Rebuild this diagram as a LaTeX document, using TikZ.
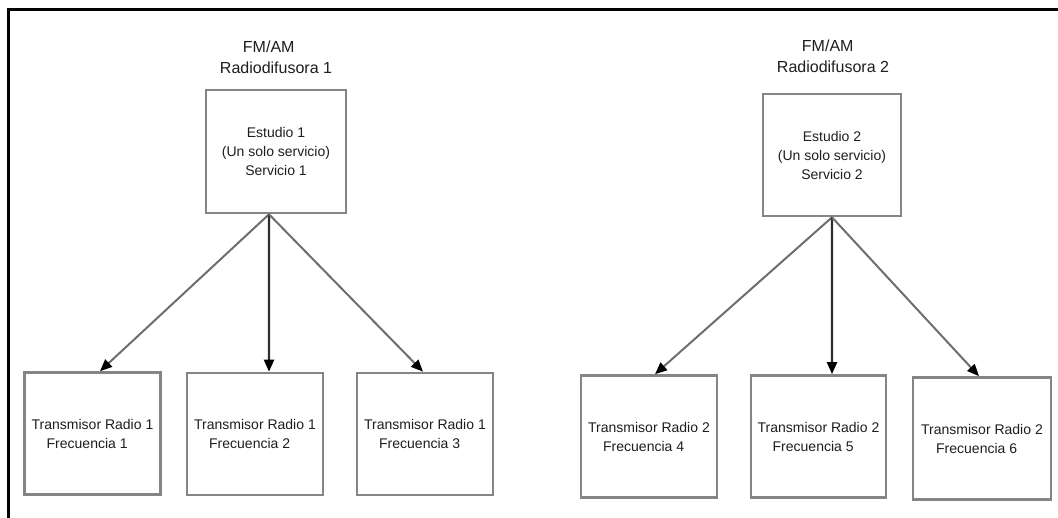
\documentclass[tikz,border=0pt]{standalone}
\usepackage{fontspec}
\setmainfont{Liberation Sans}
\usetikzlibrary{arrows.meta}
\definecolor{boxgray}{HTML}{858585}
\definecolor{linkgray}{HTML}{6E6E6E}
\definecolor{linkdark}{HTML}{2E2E2E}
\definecolor{textdark}{HTML}{1E1E1E}
\begin{document}
\begin{tikzpicture}[x=1bp,y=-1bp,
  box/.style={draw=boxgray, line width=2.6bp, inner sep=0pt, align=center,
    text=textdark, font=\fontsize{14bp}{19bp}\selectfont},
  studiobox/.style={box, minimum width=140bp, minimum height=123bp},
  txbox/.style={box, minimum width=136bp, minimum height=122bp, align=left},
  heading/.style={inner sep=0pt, align=left, text=textdark,
    font=\fontsize{16bp}{21bp}\selectfont},
  tip/.style={-{Triangle[length=12bp,width=10bp,color=black]}},
  link/.style={tip, draw=linkgray, line width=2bp},
  mainlink/.style={tip, draw=linkdark, line width=2.2bp}]

\useasboundingbox (0,0) rectangle (1058,518);
\fill[white] (0,0) rectangle (1058,518);

% outer frame: top and left edges only
\draw[line width=3bp] (1058,10) -| (8,518);

% station 1
\node[heading] (h1) at (276,57) {\hspace*{23bp}FM/AM\\Radiodifusora 1};
\node[studiobox] (e1) at (276,151.5) {Estudio 1\\(Un solo servicio)\\Servicio 1};
\node[txbox] (t1) at (92.5,433.5) {Transmisor Radio 1\\\hspace*{15bp}Frecuencia 1};
\node[txbox] (t2) at (255,434) {Transmisor Radio 1\\\hspace*{15bp}Frecuencia 2};
\node[txbox] (t3) at (425,434) {Transmisor Radio 1\\\hspace*{15bp}Frecuencia 3};

% station 2
\node[heading] (h2) at (833,56) {\hspace*{25bp}FM/AM\\Radiodifusora 2};
\node[studiobox, minimum width=138bp, minimum height=122bp] (e2) at (832,155) {Estudio 2\\(Un solo servicio)\\Servicio 2};
\node[txbox] (t4) at (649,436.5) {Transmisor Radio 2\\\hspace*{15bp}Frecuencia 4};
\node[txbox, minimum width=135bp] (t5) at (818.5,436.5) {Transmisor Radio 2\\\hspace*{15bp}Frecuencia 5};
\node[txbox, minimum width=138bp] (t6) at (982,438.5) {Transmisor Radio 2\\\hspace*{15bp}Frecuencia 6};

% feeds from each studio to its transmitters
\draw[link]     ([xshift=-7bp]e1.south) -- ([xshift=7.5bp]t1.north);
\draw[mainlink] ([xshift=-7bp]e1.south) -- ([xshift=14bp]t2.north);
\draw[link]     ([xshift=-7bp]e1.south) -- ([xshift=-2bp]t3.north);

\draw[link]     (e2.south) -- ([xshift=6bp]t4.north);
\draw[mainlink] (e2.south) -- ([xshift=13.5bp]t5.north);
\draw[link]     (e2.south) -- ([xshift=-3bp]t6.north);
\end{tikzpicture}
\end{document}
